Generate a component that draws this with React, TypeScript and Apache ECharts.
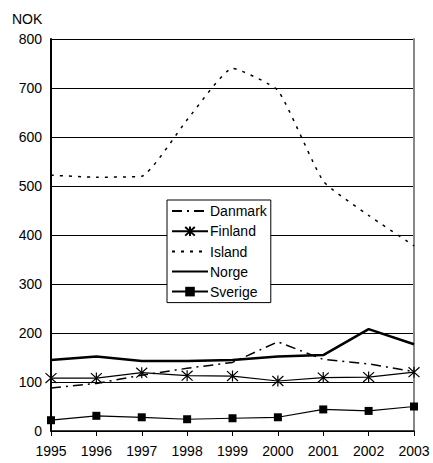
import React, { useEffect, useRef } from "react";
import * as echarts from "echarts";

const years = ["1995", "1996", "1997", "1998", "1999", "2000", "2001", "2002", "2003"];
const danmark = [88, 97, 114, 128, 140, 182, 146, 137, 121];
const finland = [108, 108, 119, 113, 112, 102, 109, 110, 120];
const island = [522, 518, 520, 635, 740, 695, 510, 440, 378];
const norge = [145, 152, 143, 143, 145, 152, 155, 208, 177];
const sverige = [22, 31, 28, 24, 26, 28, 44, 41, 50];
const yTicks = { min: 0, max: 800, interval: 100 };

const FONT = "'Liberation Sans', Arial, sans-serif";
const STAR = "path://M0,-5L0,5M-4.5,-4.5L4.5,4.5M-4.5,4.5L4.5,-4.5";

export default function App() {
  const ref = useRef<HTMLDivElement>(null);
  useEffect(() => {
    document.body.style.margin = "0";
    const chart = echarts.init(ref.current!, null, { renderer: "svg" });
    const noSym = { itemStyle: { opacity: 0 } };
    chart.setOption({
      animation: false,
      backgroundColor: "#fff",
      textStyle: { fontFamily: FONT, color: "#000" },
      title: {
        text: "NOK",
        left: 7,
        top: 7,
        textStyle: { fontFamily: FONT, fontSize: 14, fontWeight: "normal", color: "#000" },
      },
      grid: { left: 51, right: 19, top: 39, bottom: 32 },
      legend: {
        orient: "vertical",
        left: 167,
        top: 200,
        backgroundColor: "#fff",
        borderColor: "#000",
        borderWidth: 1,
        borderRadius: 0,
        padding: [4, 4, 4, 4],
        itemWidth: 36,
        itemHeight: 12,
        itemGap: 6,
        textStyle: { fontFamily: FONT, fontSize: 14, color: "#000", padding: [0, 0, 0, -3] },
        data: [
          { name: "Danmark", ...noSym },
          { name: "Finland" },
          { name: "Island", ...noSym },
          { name: "Norge", ...noSym },
          { name: "Sverige" },
        ],
      },
      xAxis: {
        type: "category",
        data: years,
        boundaryGap: false,
        axisLine: { lineStyle: { color: "#000", width: 1.5 } },
        axisTick: { show: true, length: 5, lineStyle: { color: "#000" } },
        axisLabel: { fontFamily: FONT, fontSize: 14, color: "#000", margin: 13 },
        splitLine: { show: false },
      },
      yAxis: [
        {
          type: "value",
          min: yTicks.min,
          max: yTicks.max,
          interval: yTicks.interval,
          axisLine: { show: true, lineStyle: { color: "#000", width: 2 } },
          axisTick: { show: false },
          axisLabel: { fontFamily: FONT, fontSize: 14, color: "#000", margin: 9 },
          splitLine: { show: true, lineStyle: { color: "#000", width: 1 } },
        },
        {
          type: "value",
          position: "right",
          min: yTicks.min,
          max: yTicks.max,
          interval: yTicks.interval,
          axisLine: { show: true, lineStyle: { color: "#888", width: 2 } },
          axisTick: { show: false },
          axisLabel: { show: false },
          splitLine: { show: false },
        },
      ],
      series: [
        {
          name: "Danmark",
          type: "line",
          data: danmark,
          symbol: "none",
          color: "#000",
          lineStyle: { color: "#000", width: 1.5, type: [10, 5, 2, 5] },
        },
        {
          name: "Finland",
          type: "line",
          data: finland,
          symbol: STAR,
          symbolSize: 11,
          showAllSymbol: true,
          color: "#000",
          itemStyle: { color: "none", borderColor: "#000", borderWidth: 1.2 },
          lineStyle: { color: "#000", width: 1.2 },
        },
        {
          name: "Island",
          type: "line",
          data: island,
          symbol: "none",
          smooth: 0.15,
          color: "#000",
          lineStyle: { color: "#000", width: 1.5, type: [3, 6] },
        },
        {
          name: "Norge",
          type: "line",
          data: norge,
          symbol: "none",
          color: "#000",
          lineStyle: { color: "#000", width: 2.5 },
        },
        {
          name: "Sverige",
          type: "line",
          data: sverige,
          symbol: "rect",
          symbolSize: 8,
          showAllSymbol: true,
          color: "#000",
          itemStyle: { color: "#000" },
          lineStyle: { color: "#000", width: 1.2 },
        },
      ],
    });
    return () => chart.dispose();
  }, []);
  return (
    <div
      ref={ref}
      style={{ position: "absolute", left: 0, top: 0, width: 433, height: 463 }}
    />
  );
}
